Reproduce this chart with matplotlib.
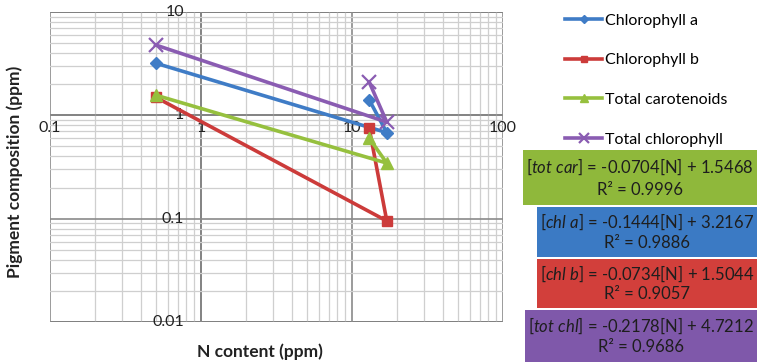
"""Pigment composition vs N content (log-log), Excel-style chart."""

import matplotlib
matplotlib.use("Agg")
import matplotlib.pyplot as plt
from matplotlib.patches import Rectangle
from matplotlib.ticker import LogLocator, NullFormatter

plt.rcParams["font.family"] = ["Lato", "DejaVu Sans"]
plt.rcParams["mathtext.fontset"] = "custom"
plt.rcParams["mathtext.rm"] = "Lato"
plt.rcParams["mathtext.it"] = "Lato:italic"

# data (points joined in data order)
n_content = [0.5, 17, 13]
chl_a = [3.2, 0.68, 1.41]
chl_b = [1.5, 0.095, 0.75]
tot_car = [1.57, 0.345, 0.6]
tot_chl = [4.8, 0.86, 2.1]

series_names = ["Chlorophyll a", "Chlorophyll b", "Total carotenoids", "Total chlorophyll"]
series_values = [chl_a, chl_b, tot_car, tot_chl]
line_colors = ["#3f7cc6", "#cc3b3a", "#96c03e", "#8a5cb2"]
markers = ["D", "s", "^", "x"]
marker_sizes = [6.5, 7, 8.5, 9.5]

x_ticks = [0.1, 1, 10, 100]
x_tick_labels = ["0.1", "1", "10", "100"]
y_ticks = [0.01, 0.1, 1, 10]
y_tick_labels = ["0.01", "0.1", "1", "10"]

fit_lines = [
    ("[tot\\ car]", "-0.0704[N] + 1.5468", "0.9996"),
    ("[chl\\ a]", "-0.1444[N] + 3.2167", "0.9886"),
    ("[chl\\ b]", "-0.0734[N] + 1.5044", "0.9057"),
    ("[tot\\ chl]", "-0.2178[N] + 4.7212", "0.9686"),
]
box_colors = ["#8fb83b", "#3b7ac4", "#d23f3b", "#7f58aa"]
# box extents in pixels: x0, x1, y_top, y_bottom
box_px = [(523, 757, 150, 205), (537, 757, 207, 257), (537, 757, 259, 308), (525, 757, 310, 362)]

W, H = 757, 364
fig = plt.figure(figsize=(W / 100, H / 100), dpi=100)
ax = fig.add_axes([50 / W, 1 - 322 / H, 453 / W, 310 / H])
ax.set_xscale("log")
ax.set_yscale("log")
ax.set_xlim(0.1, 100)
ax.set_ylim(0.01, 10)

ax.xaxis.set_minor_locator(LogLocator(base=10, subs=range(2, 10)))
ax.yaxis.set_minor_locator(LogLocator(base=10, subs=range(2, 10)))
ax.xaxis.set_minor_formatter(NullFormatter())
ax.yaxis.set_minor_formatter(NullFormatter())
ax.set_xticks(x_ticks)
ax.set_yticks(y_ticks)
ax.set_xticklabels([])
ax.set_yticklabels([])
ax.tick_params(which="both", length=0)
ax.grid(which="minor", color="#cfcfcf", lw=0.9)
ax.grid(which="major", color="#8a8a8a", lw=1.2)
for s in ax.spines.values():
    s.set_visible(False)
ax.axhline(1, color="#6a6a6a", lw=1.4, zorder=1)
ax.axvline(1, color="#6a6a6a", lw=1.4, zorder=1)
ax.axhline(0.01, color="#555555", lw=1.4, zorder=1)
ax.axhline(10, color="#555555", lw=1.4, zorder=1)

# tick labels where the axes cross (x=1, y=1)
for xv, lab in zip(x_ticks, x_tick_labels):
    ax.annotate(lab, (xv, 1), xytext=(0, -9), textcoords="offset points",
                ha="center", va="center", fontsize=11.5, color="#222222")
for yv, lab in zip(y_ticks, y_tick_labels):
    ax.annotate(lab, (1, yv), xytext=(-12, 0), textcoords="offset points",
                ha="right", va="center", fontsize=11.5, color="#222222")

handles = []
for name, vals, c, m, ms in zip(series_names, series_values, line_colors, markers, marker_sizes):
    h, = ax.plot(n_content, vals, color=c, lw=2.6, marker=m, ms=ms,
                 mew=1.6 if m == "x" else 1, label=name, zorder=3)
    handles.append(h)

fig.legend(handles=handles, loc="upper left", bbox_to_anchor=(559 / W, 1 - 7 / H),
           frameon=False, fontsize=11.5, handlelength=2.3, handletextpad=0.2,
           labelspacing=1.6, markerscale=0.7, borderaxespad=0)

fig.text(15 / W, 1 - 172 / H, "Pigment composition (ppm)", rotation=90,
         ha="center", va="center", fontsize=12.5, fontweight="bold", color="#222222")
fig.text(260 / W, 1 - 352 / H, "N content (ppm)", ha="center", va="center",
         fontsize=12.5, fontweight="bold", color="#222222")

for (name, eq, r2), col, (x0, x1, yt, yb) in zip(fit_lines, box_colors, box_px):
    fig.add_artist(Rectangle((x0 / W, 1 - yb / H), (x1 - x0) / W, (yb - yt) / H,
                             transform=fig.transFigure, facecolor=col, edgecolor="none"))
    cx = (x0 + x1) / 2 / W
    h = yb - yt
    fig.text(cx, 1 - (yt + h * 0.3) / H, "$\\mathit{" + name + "}$ = " + eq,
             ha="center", va="center", fontsize=12, color="#1e1e1e")
    fig.text(cx, 1 - (yt + h * 0.72) / H, "R² = " + r2,
             ha="center", va="center", fontsize=12, color="#1e1e1e")

fig.savefig("out.png", dpi=100)
